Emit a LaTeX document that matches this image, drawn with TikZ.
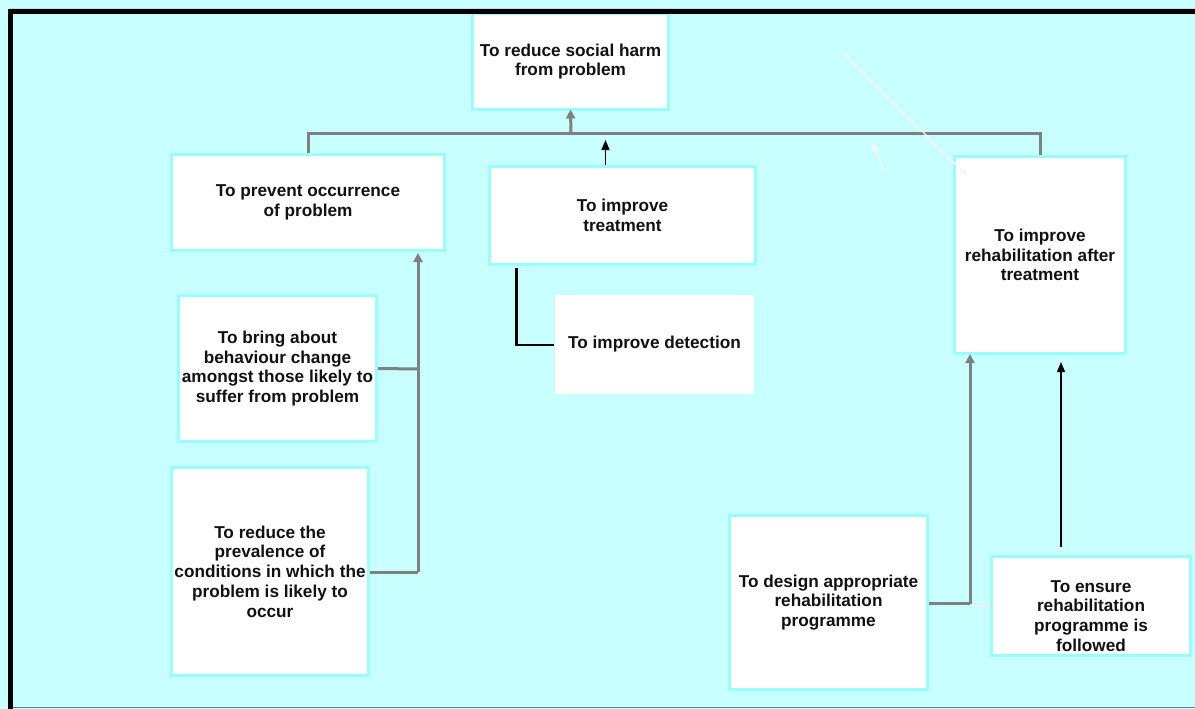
\documentclass[tikz,border=0pt]{standalone}
\usepackage{fontspec}
\setmainfont{Liberation Sans}
\usetikzlibrary{arrows.meta}
\definecolor{bgc}{HTML}{C8FFFF}
\definecolor{boxedge}{HTML}{99FFFF}
\definecolor{txtc}{HTML}{111111}
\definecolor{linkgray}{HTML}{808080}
\definecolor{botline}{HTML}{5F7F7F}
\tikzset{
  box/.style={draw=boxedge, line width=3pt, fill=white, rectangle, inner sep=0pt,
    align=center, text=txtc, font=\fontsize{17.2}{19.8}\selectfont\bfseries},
  plainbox/.style={box, draw=none},
  glink/.style={draw=linkgray, line width=3pt},
  garrow/.style={glink, -{Triangle[length=9pt,width=9pt]}},
  blink/.style={draw=black, line width=2.6pt},
  barrow/.style={draw=black, line width=1.4pt, -{Triangle[length=10pt,width=8pt]}},
  warrow/.style={draw=white!94!gray, line width=1.3pt, -{Triangle[length=9pt,width=7pt]}},
  txt/.style={text=txtc, align=center, font=\fontsize{17.2}{19.8}\selectfont\bfseries}
}
\begin{document}
\begin{tikzpicture}[x=1pt,y=-1pt]
\useasboundingbox (0,0) rectangle (1195,709);
\fill[bgc] (0,0) rectangle (1195,709);

% boxes
\node[box, minimum width=196pt, minimum height=96pt] (top) at (570.5,61.5) {To reduce social harm\\from problem};
\node[box, minimum width=273pt, minimum height=96pt] (prevent) at (308,202.5) {To prevent occurrence\\of problem};
\node[box, minimum width=266pt, minimum height=98pt] (treat) at (622.5,215.5) {To improve\\treatment};
\node[box, minimum width=171pt, minimum height=197pt] (rehab) at (1040,255) {To improve\\rehabilitation after\\treatment};
\node[box, minimum width=198pt, minimum height=146pt] (behav) at (277.5,368.5) {To bring about\\behaviour change\\amongst those likely to\\suffer from problem};
\node[box, minimum width=197pt, minimum height=208pt] (preval) at (270,571.5) {To reduce the\\prevalence of\\conditions in which the\\problem is likely to\\occur};
\node[plainbox, minimum width=199pt, minimum height=99pt] (detect) at (654.5,344.5) {To improve detection};
\node[box, minimum width=198pt, minimum height=174pt] (design) at (828.5,602.5) {To design appropriate\\rehabilitation\\programme};
\node[box, minimum width=199pt, minimum height=99pt,
  label={[txt, yshift=-10pt]center:{To ensure\\rehabilitation\\programme is\\followed}}] (ensure) at (1091,606) {};

% junction coordinates
\coordinate (jtop) at (571,133);
\coordinate (jleft) at (308,133);
\coordinate (jright) at (1040,133);
\coordinate (jprev) at (418,572);
\coordinate (jbeh) at (418,369);
\coordinate (jdes) at (970,603.5);
\coordinate (jdet) at (516.5,345);
\coordinate (wdiagA) at (843,52);
\coordinate (wdiagB) at (968,177);
\coordinate (wsmA) at (883,170);
\coordinate (wsmB) at (872.5,142);
\coordinate (ensL) at (990,606);

% gray connectors
\draw[glink] (prevent.north) -- (jleft) -- (jright) -- (rehab.north);
\draw[garrow, shorten >=-1.5pt] (jtop) -- (top.south);
\draw[glink] (behav.east) -- (jbeh);
\draw[glink] (preval.east |- jprev) -- (jprev);
\draw[garrow, shorten >=1pt] (jprev) -- (jprev |- prevent.south);
\draw[glink] (design.east |- jdes) -- (jdes);
\draw[garrow, shorten >=-1pt] (jdes) -- (jdes |- rehab.south);
\draw[draw=white!88!gray, line width=2.5pt] (jdes |- ensL) ++(1.5,0) -- (ensL);

% black connectors
\draw[barrow, shorten >=0pt] (treat.north -| 605.5,0) -- (605.5,140);
\draw[blink] (treat.south -| jdet) ++(0,1.5) -- (jdet) -- (detect.west |- jdet);
\draw[barrow] (1061,547) -- (1061,362);

% faint white arrows
\draw[warrow] (wdiagA) -- (wdiagB);
\draw[warrow] (wsmA) -- (wsmB);

% frame
\draw[color=white!70!botline, line width=1pt] (10,8.3) -- (1195,8.3);
\draw[black, line width=5pt] (10.5,709) -- (10.5,11.5) -- (1195,11.5);
\draw[botline, line width=1.5pt] (13,707.5) -- (1195,707.5);
\end{tikzpicture}
\end{document}
